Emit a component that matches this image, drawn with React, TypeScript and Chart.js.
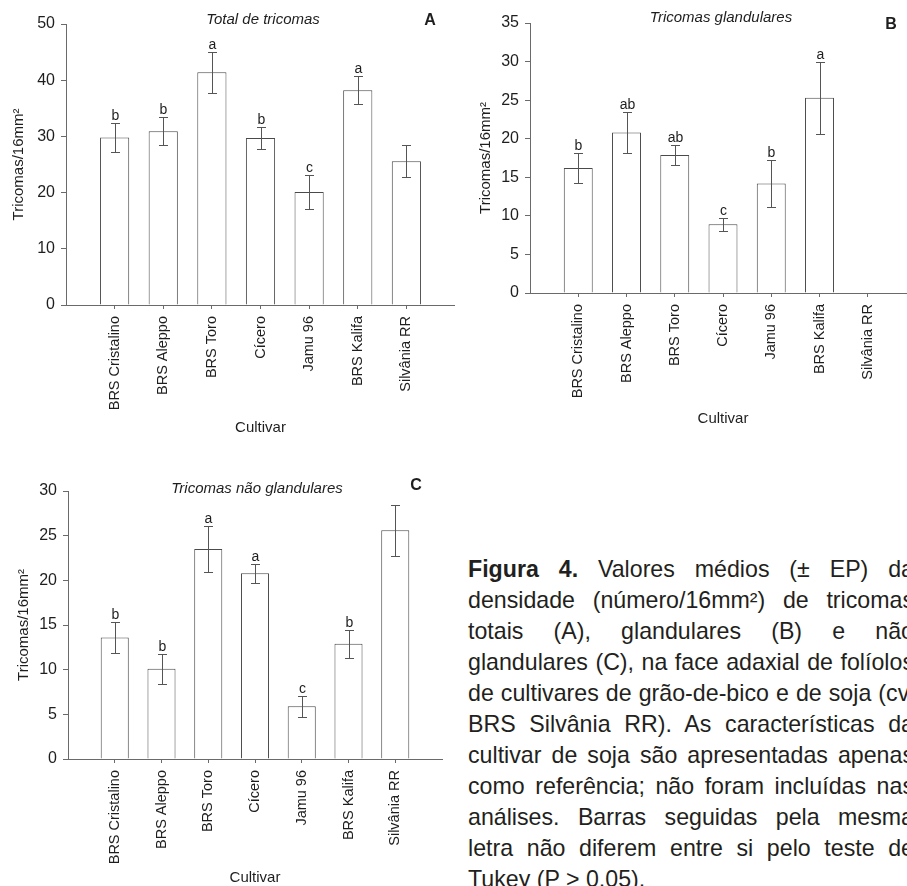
import React, { useEffect, useRef } from "react";
import { Chart, registerables } from "chart.js";

Chart.register(...registerables);

// ---------- data ----------
const cultivars = ["BRS Cristalino", "BRS Aleppo", "BRS Toro", "Cícero", "Jamu 96", "BRS Kalifa", "Silvânia RR"];

const totalMeans = [29.8, 30.9, 41.4, 29.7, 20.1, 38.2, 25.6];
const totalSE = [2.55, 2.5, 3.7, 2.0, 3.0, 2.5, 2.8];
const totalLetters = ["b", "b", "a", "b", "c", "a", ""];

const glandMeans: (number | null)[] = [16.2, 20.8, 17.9, 8.9, 14.2, 25.3, null];
const glandSE: (number | null)[] = [2.0, 2.6, 1.25, 0.8, 3.0, 4.65, null];
const glandLetters = ["b", "ab", "ab", "c", "b", "a", ""];

const nonGlandMeans = [13.6, 10.1, 23.5, 20.8, 5.9, 12.9, 25.6];
const nonGlandSE = [1.7, 1.7, 2.55, 1.05, 1.2, 1.55, 2.85];
const nonGlandLetters = ["b", "b", "a", "a", "c", "b", ""];

const yMaxTotal = 50;
const yStepTotal = 10;
const yMaxGland = 35;
const yStepGland = 5;
const yMaxNonGland = 30;
const yStepNonGland = 5;

const yAxisTitle = "Tricomas/16mm²";
const xAxisTitle = "Cultivar";

// ---------- styling ----------
const FONT = '"Liberation Sans", Arial, Helvetica, sans-serif';
const TEXT = "#1e1e1e";
const AXIS = "#6a6a6a";
const BAR_BORDER = "#4a4a4a";
const ERR = "#555555";

type PanelSpec = {
  left: number;
  top: number;
  w: number;
  h: number;
  yWidth: number;
  padTop: number;
  padRight: number;
  xHeight: number;
  xTitlePad: number;
  yTitlePad: number;
  yMax: number;
  yStep: number;
  means: (number | null)[];
  se: (number | null)[];
  letters: string[];
  title: string;
  titleX: number;
  titleY: number;
  panel: string;
  panelX: number;
  panelY: number;
};

const annotPlugin = {
  id: "annot",
  afterDatasetsDraw(chart: any, _args: any, opts: any) {
    const { ctx } = chart;
    const xs = chart.scales.x;
    const ys = chart.scales.y;
    const means: (number | null)[] = opts.means;
    const se: (number | null)[] = opts.se;
    const letters: string[] = opts.letters;
    ctx.save();
    ctx.strokeStyle = ERR;
    ctx.lineWidth = 1;
    means.forEach((m, i) => {
      if (m == null) return;
      const e = se[i] ?? 0;
      const px = Math.round(xs.getPixelForValue(i)) + 0.5;
      const top = Math.round(ys.getPixelForValue(m + e)) + 0.5;
      const bot = Math.round(ys.getPixelForValue(m - e)) + 0.5;
      ctx.beginPath();
      ctx.moveTo(px, top);
      ctx.lineTo(px, bot);
      ctx.moveTo(px - 4.5, top);
      ctx.lineTo(px + 4.5, top);
      ctx.moveTo(px - 4.5, bot);
      ctx.lineTo(px + 4.5, bot);
      ctx.stroke();
      if (letters[i]) {
        ctx.fillStyle = TEXT;
        ctx.font = `14px ${FONT}`;
        ctx.textAlign = "center";
        ctx.textBaseline = "alphabetic";
        ctx.fillText(letters[i], px, top - 4);
      }
    });
    ctx.fillStyle = TEXT;
    ctx.textAlign = "center";
    ctx.textBaseline = "middle";
    ctx.font = `italic 15px ${FONT}`;
    ctx.fillText(opts.title, opts.titleX, opts.titleY);
    ctx.font = `bold 16px ${FONT}`;
    ctx.fillText(opts.panel, opts.panelX, opts.panelY);
    ctx.restore();
  },
};

function Panel({ spec }: { spec: PanelSpec }) {
  const ref = useRef<HTMLCanvasElement>(null);
  useEffect(() => {
    if (!ref.current) return;
    const chart = new Chart(ref.current, {
      type: "bar",
      data: {
        datasets: [
          {
            data: spec.means.map((v, i) => ({ x: i, y: v })) as any,
            backgroundColor: "#ffffff",
            borderColor: BAR_BORDER,
            borderWidth: 1,
            barPercentage: 0.6,
            categoryPercentage: 1,
          },
        ],
      },
      options: {
        responsive: false,
        animation: false,
        devicePixelRatio: 1,
        layout: { padding: { left: 0, top: spec.padTop, right: spec.padRight, bottom: 0 } },
        plugins: {
          legend: { display: false },
          tooltip: { enabled: false },
          title: { display: false },
          annot: {
            means: spec.means,
            se: spec.se,
            letters: spec.letters,
            title: spec.title,
            titleX: spec.titleX,
            titleY: spec.titleY,
            panel: spec.panel,
            panelX: spec.panelX,
            panelY: spec.panelY,
          },
        } as any,
        scales: {
          x: {
            type: "linear",
            min: -1,
            max: 7,
            offset: false,
            afterBuildTicks: (s: any) => {
              s.ticks = cultivars.map((_, i) => ({ value: i }));
            },
            afterFit: (s: any) => {
              s.height = spec.xHeight;
            },
            ticks: {
              autoSkip: false,
              maxRotation: 90,
              minRotation: 90,
              padding: 7,
              color: TEXT,
              font: { family: FONT, size: 14.5 },
              callback: (v: any) => cultivars[v] ?? "",
            },
            grid: {
              display: true,
              offset: false,
              drawOnChartArea: false,
              drawTicks: true,
              tickLength: 4,
              color: AXIS,
            },
            border: { display: true, color: AXIS, width: 1 },
            title: {
              display: true,
              text: xAxisTitle,
              color: TEXT,
              font: { family: FONT, size: 15 },
              padding: { top: 0, bottom: spec.xTitlePad },
            },
          } as any,
          y: {
            min: 0,
            max: spec.yMax,
            afterFit: (s: any) => {
              s.width = spec.yWidth;
            },
            ticks: {
              stepSize: spec.yStep,
              padding: 6,
              color: TEXT,
              font: { family: FONT, size: 16 },
            },
            grid: {
              display: true,
              drawOnChartArea: false,
              drawTicks: true,
              tickLength: 5,
              color: AXIS,
            },
            border: { display: true, color: AXIS, width: 1 },
            title: {
              display: true,
              text: yAxisTitle,
              color: TEXT,
              font: { family: FONT, size: 15 },
              padding: { top: spec.yTitlePad, bottom: 0 },
            },
          } as any,
        },
      },
      plugins: [annotPlugin as any],
    });
    return () => chart.destroy();
  }, [spec]);
  return (
    <canvas
      ref={ref}
      width={spec.w}
      height={spec.h}
      style={{ position: "absolute", left: spec.left, top: spec.top, width: spec.w, height: spec.h }}
    />
  );
}

const panelA: PanelSpec = {
  left: 0, top: 0, w: 455, h: 445,
  yWidth: 66, padTop: 24, padRight: 0, xHeight: 140,
  xTitlePad: 8, yTitlePad: 10,
  yMax: yMaxTotal, yStep: yStepTotal,
  means: totalMeans, se: totalSE, letters: totalLetters,
  title: "Total de tricomas", titleX: 263, titleY: 20,
  panel: "A", panelX: 430, panelY: 21,
};

const panelB: PanelSpec = {
  left: 455, top: 0, w: 470, h: 440,
  yWidth: 75, padTop: 23, padRight: 9, xHeight: 147,
  xTitlePad: 12, yTitlePad: 22,
  yMax: yMaxGland, yStep: yStepGland,
  means: glandMeans, se: glandSE, letters: glandLetters,
  title: "Tricomas glandulares", titleX: 266, titleY: 18,
  panel: "B", panelX: 436, panelY: 25,
};

const panelC: PanelSpec = {
  left: 0, top: 460, w: 455, h: 440,
  yWidth: 68, padTop: 31, padRight: 13, xHeight: 141,
  xTitlePad: 13, yTitlePad: 15,
  yMax: yMaxNonGland, yStep: yStepNonGland,
  means: nonGlandMeans, se: nonGlandSE, letters: nonGlandLetters,
  title: "Tricomas não glandulares", titleX: 257, titleY: 29,
  panel: "C", panelX: 416, panelY: 26,
};

export default function App() {
  return (
    <div
      style={{
        position: "absolute",
        left: 0,
        top: 0,
        width: 907,
        height: 886,
        overflow: "hidden",
        background: "#ffffff",
      }}
    >
      <Panel spec={panelA} />
      <Panel spec={panelB} />
      <Panel spec={panelC} />
      <div
        style={{
          position: "absolute",
          left: 468,
          top: 554,
          width: 446,
          fontFamily: FONT,
          fontSize: 23.2,
          lineHeight: "31px",
          textAlign: "justify",
          color: "#231f20",
        }}
      >
        <b>Figura 4.</b> Valores médios (± EP) da densidade (número/16mm²) de tricomas totais (A),
        glandulares (B) e não glandulares (C), na face adaxial de folíolos de cultivares de
        grão-de-bico e de soja (cv. BRS Silvânia RR). As características da cultivar de soja são
        apresentadas apenas como referência; não foram incluídas nas análises. Barras seguidas pela
        mesma letra não diferem entre si pelo teste de Tukey (P &gt; 0,05).
      </div>
    </div>
  );
}
